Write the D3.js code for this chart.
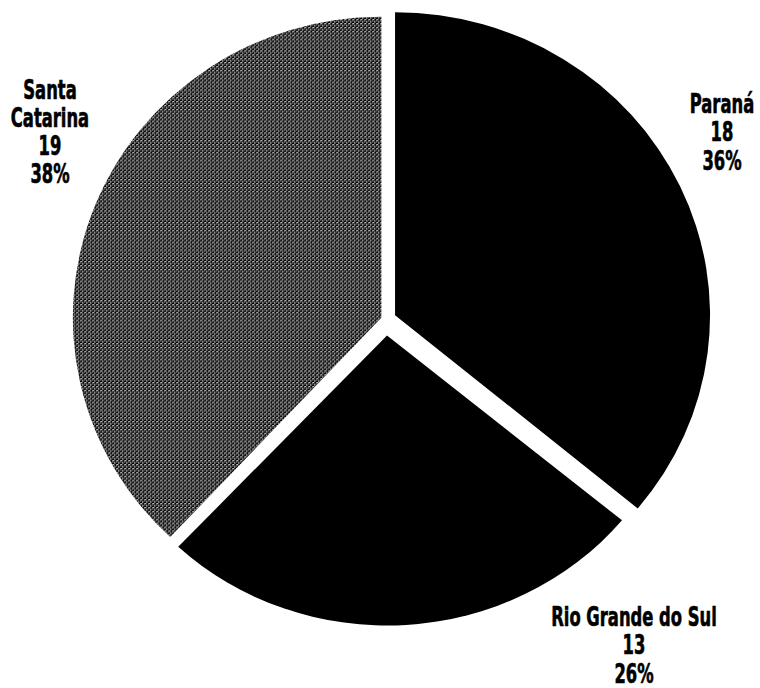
<!DOCTYPE html>
<html>
<head>
<meta charset="utf-8">
<script src="https://cdn.jsdelivr.net/npm/d3@7"></script>
<style>
  html, body { margin: 0; padding: 0; background: #fff; }
  text { font-family: "Liberation Sans Narrow", "Arial Narrow", "DejaVu Sans Condensed", "DejaVu Sans", sans-serif; font-weight: bold; font-size: 26px; fill: #000; stroke: #000; stroke-width: 0.6px; }
</style>
</head>
<body>
<svg id="chart" width="760" height="688"></svg>
<script>
// ---- data ----
const categories = ["Paraná", "Rio Grande do Sul", "Santa Catarina"];
const values = [18, 13, 19];
const percentLabels = ["36%", "26%", "38%"];

// ---- layout / style (not data) ----
const center = { x: 386, y: 319.5 };
const sliceStyle = {
  "Paraná":            { explode: 10, rx: 315, ry: 303, fill: "#000" },
  "Rio Grande do Sul": { explode: 16, rx: 305, ry: 290, fill: "#000" },
  "Santa Catarina":    { explode: 5,  rx: 308.5, ry: 301, fill: "url(#dither)" }
};
const labelLayout = {
  "Paraná":            { x: 722, y: 113, lines: l => [l.name, l.value, l.pct], dy: 28.5 },
  "Rio Grande do Sul": { x: 634, y: 626, lines: l => [l.name, l.value, l.pct], dy: 28.5 },
  "Santa Catarina":    { x: 50,  y: 99, lines: l => ["Santa", "Catarina", l.value, l.pct], dy: 28 }
};
const textSqueeze = 0.7;

const svg = d3.select("#chart");

// dithered gray pattern
const defs = svg.append("defs");
const pat = defs.append("pattern")
  .attr("id", "dither").attr("patternUnits", "userSpaceOnUse")
  .attr("width", 4).attr("height", 4);
pat.append("rect").attr("width", 4).attr("height", 4).attr("fill", "#000");
[[1,0,"#d8d8d8"],[3,0,"#707070"],[1,1,"#c0c0c0"],
 [0,2,"#b8b8b8"],[3,2,"#d8d8d8"],[3,3,"#a0a0a0"],[1,3,"#606060"]]
  .forEach(([x,y,c]) => pat.append("rect").attr("x", x).attr("y", y)
    .attr("width", 1).attr("height", 1).attr("fill", c));

const rows = categories.map((c, i) => ({ name: c, value: values[i], pct: percentLabels[i] }));

const pie = d3.pie().sort(null).value(d => d.value).startAngle(0).endAngle(2 * Math.PI);
const arcs = pie(rows);

arcs.forEach(a => {
  const st = sliceStyle[a.data.name];
  const mid = (a.startAngle + a.endAngle) / 2;
  const ax = center.x + st.explode * Math.sin(mid);
  const ay = center.y - st.explode * Math.cos(mid);
  const arc = d3.arc().innerRadius(0).outerRadius(st.rx);
  svg.append("g")
    .attr("transform", `translate(${ax},${ay}) scale(1,${st.ry / st.rx})`)
    .append("path")
    .attr("d", arc(a))
    .attr("fill", st.fill)
    .attr("stroke", "none");
});

// labels (condensed by horizontal squeeze)
rows.forEach(r => {
  const L = labelLayout[r.name];
  const t = svg.append("text")
    .attr("text-anchor", "middle")
    .attr("transform", `translate(${L.x},0) scale(${textSqueeze},1)`);
  L.lines(r).forEach((line, i) => {
    t.append("tspan").attr("x", 0).attr("y", L.y + i * L.dy).text(line);
  });
});
</script>
</body>
</html>
